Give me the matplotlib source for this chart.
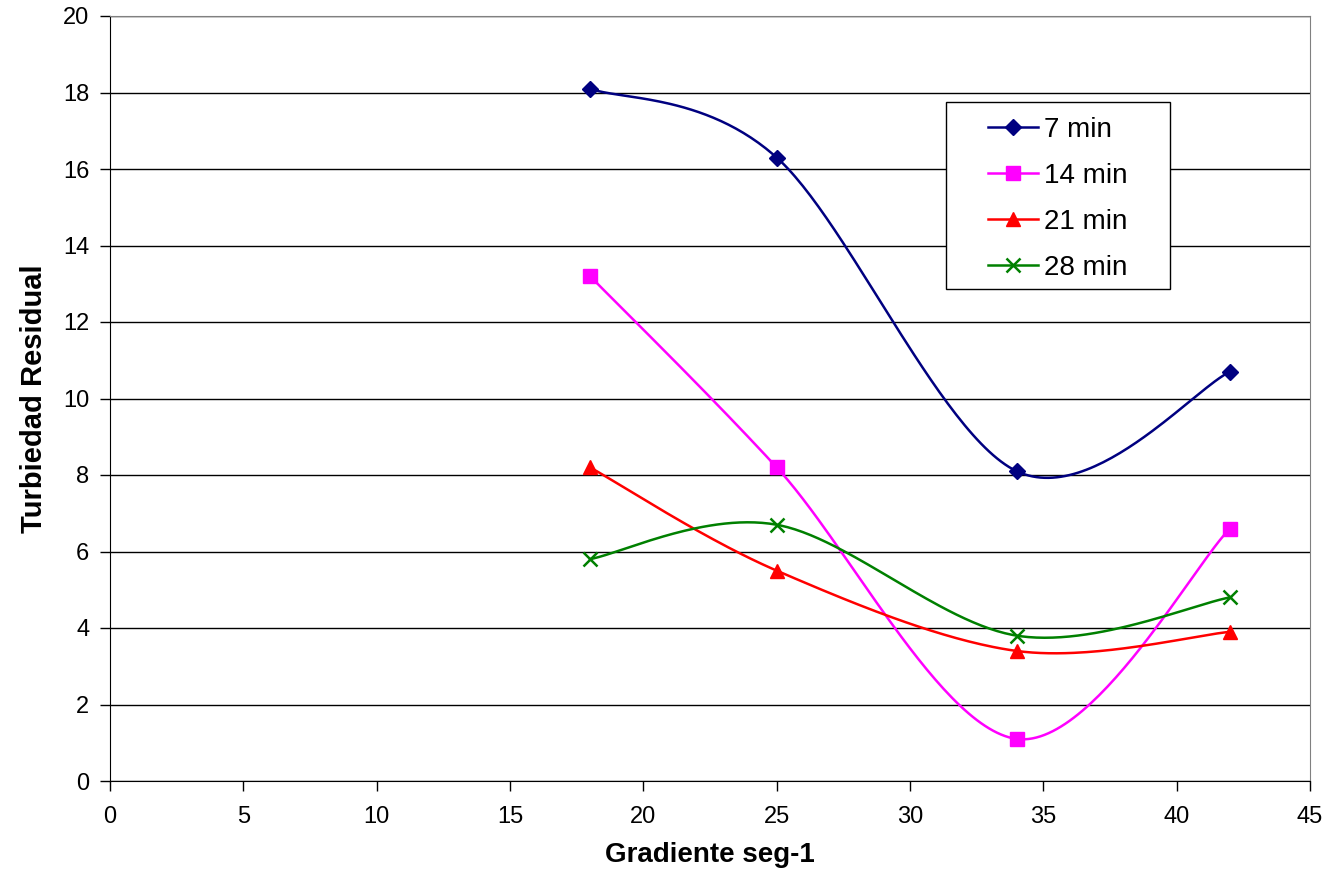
import numpy as np
import matplotlib
matplotlib.use("Agg")
import matplotlib.pyplot as plt
from matplotlib.patches import Rectangle

plt.rcParams['font.family'] = ['Liberation Sans', 'DejaVu Sans']

x_vals = [18, 25, 34, 42]
series_labels = ['7 min', '14 min', '21 min', '28 min']
y_7 = [18.1, 16.3, 8.1, 10.7]
y_14 = [13.2, 8.2, 1.1, 6.6]
y_21 = [8.2, 5.5, 3.4, 3.9]
y_28 = [5.8, 6.7, 3.8, 4.8]

colors = ['#000080', '#FF00FF', '#FF0000', '#008000']
markers = ['D', 's', '^', 'x']
msizes = [8, 9.5, 10, 9.5]

W, H = 1332, 874
fig = plt.figure(figsize=(W / 100, H / 100), dpi=100)
ax = fig.add_axes([110 / W, 1 - 781 / H, 1200 / W, 765 / H])

xmin, xmax, ymin, ymax = 0, 45, 0, 20
sx = 1200 / (xmax - xmin)
sy = 765 / (ymax - ymin)


def smooth(xs, ys, n=60):
    # Bezier smoothing (Catmull-Rom style) in screen-scaled space
    P = np.column_stack([np.array(xs) * sx, np.array(ys) * sy])
    out = []
    m = len(P)
    for i in range(m - 1):
        p0 = P[i - 1] if i > 0 else P[i]
        p1 = P[i]
        p2 = P[i + 1]
        p3 = P[i + 2] if i + 2 < m else P[i + 1]
        c1 = p1 + (p2 - p0) / 6
        c2 = p2 - (p3 - p1) / 6
        t = np.linspace(0, 1, n)[:, None]
        seg = ((1 - t) ** 3) * p1 + 3 * ((1 - t) ** 2) * t * c1 + 3 * (1 - t) * t ** 2 * c2 + t ** 3 * p2
        out.append(seg if i == 0 else seg[1:])
    S = np.vstack(out)
    return S[:, 0] / sx, S[:, 1] / sy


all_y = [y_7, y_14, y_21, y_28]
handles = []
for ys, c, mk, ms, lab in zip(all_y, colors, markers, msizes, series_labels):
    mew = 1.8 if mk == 'x' else 1
    cx, cy = smooth(x_vals, ys)
    ax.plot(cx, cy, color=c, lw=1.8, zorder=3)
    ax.plot(x_vals, ys, linestyle='none', marker=mk, color=c, markersize=ms,
            markeredgewidth=mew, zorder=4)
    h, = ax.plot([], [], color=c, lw=1.8, marker=mk, markersize=ms,
                 markeredgewidth=mew, label=lab)
    handles.append(h)

ax.set_xlim(xmin, xmax)
ax.set_ylim(ymin, ymax)
ax.set_xticks(np.arange(0, 46, 5))
ax.set_yticks(np.arange(0, 21, 2))
ax.yaxis.grid(True, color='black', lw=1)
ax.set_axisbelow(True)
for s in ['top', 'right']:
    ax.spines[s].set_color('#808080')
for s in ['left', 'bottom']:
    ax.spines[s].set_color('black')
ax.tick_params(axis='both', direction='out', length=7, labelsize=17, width=1)
ax.tick_params(axis='x', pad=11)
ax.tick_params(axis='y', pad=8)

ax.set_xlabel('Gradiente seg-1', fontsize=20, fontweight='bold', labelpad=10)
ax.set_ylabel('Turbiedad Residual', fontsize=21, fontweight='bold', labelpad=11)

# legend box
box = Rectangle((946 / W, 1 - 289 / H), 224 / W, 187 / H, transform=fig.transFigure,
                facecolor='white', edgecolor='black', lw=1, zorder=5, clip_on=False)
fig.patches.append(box)

leg = fig.legend(handles=handles, loc='upper left',
                 bbox_to_anchor=(988 / W, 1 - 117 / H), bbox_transform=fig.transFigure,
                 fontsize=20, frameon=False,
                 borderpad=0, labelspacing=0.72, handlelength=1.8,
                 handletextpad=0.2, borderaxespad=0)
leg.set_zorder(6)

fig.savefig('out.png', dpi=100, facecolor='white')
